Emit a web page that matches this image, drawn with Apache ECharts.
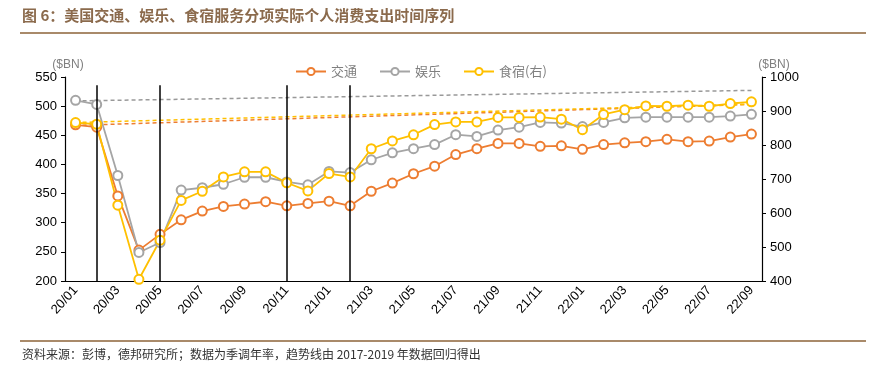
<!DOCTYPE html>
<html><head><meta charset="utf-8">
<script src="https://cdn.jsdelivr.net/npm/echarts@6/dist/echarts.min.js"></script>
<style>html,body{margin:0;padding:0;background:#fff}#c{width:883px;height:370px}</style>
</head><body><div id="c"></div>
<script>
const months = ['20/01','20/02','20/03','20/04','20/05','20/06','20/07','20/08','20/09','20/10','20/11','20/12',
  '21/01','21/02','21/03','21/04','21/05','21/06','21/07','21/08','21/09','21/10','21/11','21/12',
  '22/01','22/02','22/03','22/04','22/05','22/06','22/07','22/08','22/09'];
const transport = [468,464,346,253,280,305,320,328,332,336,329,333,337,329,354,368,384,397,417,427,436,436,431,432,426,434,437,439,443,439,440,447,452];
const entertainment = [510,503,381,249,266,356,360,366,378,378,370,365,388,386,408,420,427,434,451,448,459,464,472,471,465,472,480,481,481,481,481,483,486];
const foodLodging = [866,861,623,405,520,637,664,706,721,721,689,665,716,706,789,812,830,860,868,868,881,881,882,876,845,890,904,915,914,917,914,922,927];
const transportTrend = [467, 503];
const entertainmentTrend = [509, 527];
const foodTrend = [866, 920];
const markerMonths = ['20/02','20/05','20/11','21/02'];
const markerRange = [200, 536];
const leftTicks = {min:200, max:550, interval:50};
const rightTicks = {min:400, max:1000, interval:100};

const C_OR = '#ED7D31', C_GR = '#A5A5A5', C_YE = '#FFC000';
const chart = echarts.init(document.getElementById('c'));
const FONT = '"Liberation Sans", Arial, sans-serif';
const first = months[0], last = months[months.length-1];

function mainSeries(name, data, color, yIdx, extra) {
  return Object.assign({
    name, type:'line', data, yAxisIndex:yIdx, symbol:'emptyCircle', symbolSize:9,
    itemStyle:{color, borderColor:color, borderWidth:1.3}, lineStyle:{color, width:1.8},
    emphasis:{disabled:true}, z:3
  }, extra||{});
}
function trend(data, color, yIdx) {
  return {type:'line', yAxisIndex:yIdx, data:[[first, data[0]],[last, data[1]]], symbol:'none',
    lineStyle:{color, width:1.5, type:[4,3]}, silent:true, z:2};
}

chart.setOption({
  animation:false,
  textStyle:{fontFamily:FONT},
  grid:{left:65, right:121, top:77, bottom:89},
  legend:{
    data:[{name:'交通'},{name:'娱乐'},{name:'食宿(右)'}],
    top:60, left:290, itemWidth:30, itemHeight:9, itemGap:22,
    textStyle:{color:'#7f7f7f', fontSize:13, fontFamily:'"Noto Sans CJK SC", sans-serif'}
  },
  xAxis:{
    type:'category', data:months, boundaryGap:true,
    axisLine:{lineStyle:{color:'#000', width:1.2}},
    axisTick:{interval:1, length:4, lineStyle:{color:'#000'}},
    axisLabel:{interval:1, rotate:48, color:'#000', fontSize:13, margin:7}
  },
  yAxis:[
    {type:'value', min:leftTicks.min, max:leftTicks.max, interval:leftTicks.interval,
     name:'($BN)', nameGap:6, nameTextStyle:{color:'#7f7f7f', fontSize:12, align:'center', padding:[0,0,0,6]},
     axisLine:{show:true, lineStyle:{color:'#000', width:1.2}},
     axisTick:{show:true, length:4, lineStyle:{color:'#000'}},
     axisLabel:{color:'#000', fontSize:13, margin:8}, splitLine:{show:false}},
    {type:'value', min:rightTicks.min, max:rightTicks.max, interval:rightTicks.interval, position:'right',
     name:'($BN)', nameGap:6, nameTextStyle:{color:'#7f7f7f', fontSize:12, align:'center', padding:[0,0,0,24]},
     axisLine:{show:true, lineStyle:{color:'#000', width:1.2}},
     axisTick:{show:true, length:4, lineStyle:{color:'#000'}},
     axisLabel:{color:'#000', fontSize:13, margin:8, formatter:v => String(v)}, splitLine:{show:false}}
  ],
  series:[
    trend(entertainmentTrend, '#999999', 0),
    trend(transportTrend, C_OR, 0),
    trend(foodTrend, C_YE, 1),
    mainSeries('交通', transport, C_OR, 0, {
      markLine:{silent:true, symbol:'none', label:{show:false},
        lineStyle:{color:'#000', width:1.5, type:'solid'},
        data: markerMonths.map(m => [{coord:[m, markerRange[0]]},{coord:[m, markerRange[1]]}])}
    }),
    mainSeries('娱乐', entertainment, C_GR, 0),
    mainSeries('食宿(右)', foodLodging, C_YE, 1)
  ],
  graphic:[
    {type:'text', left:22, top:8, style:{text:'图 6：美国交通、娱乐、食宿服务分项实际个人消费支出时间序列',
      fill:'#8B6A4C', font:'bold 15px "Noto Sans CJK SC", sans-serif'}},
    {type:'rect', shape:{x:20, y:32, width:846, height:2}, style:{fill:'#A98A6A'}},
    {type:'rect', shape:{x:20, y:340, width:846, height:2}, style:{fill:'#A98A6A'}},
    {type:'text', left:22, top:348, style:{text:'资料来源：彭博，德邦研究所；数据为季调年率，趋势线由 2017-2019 年数据回归得出',
      fill:'#333', font:'12px "Noto Sans CJK SC", sans-serif'}}
  ]
});
</script></body></html>
